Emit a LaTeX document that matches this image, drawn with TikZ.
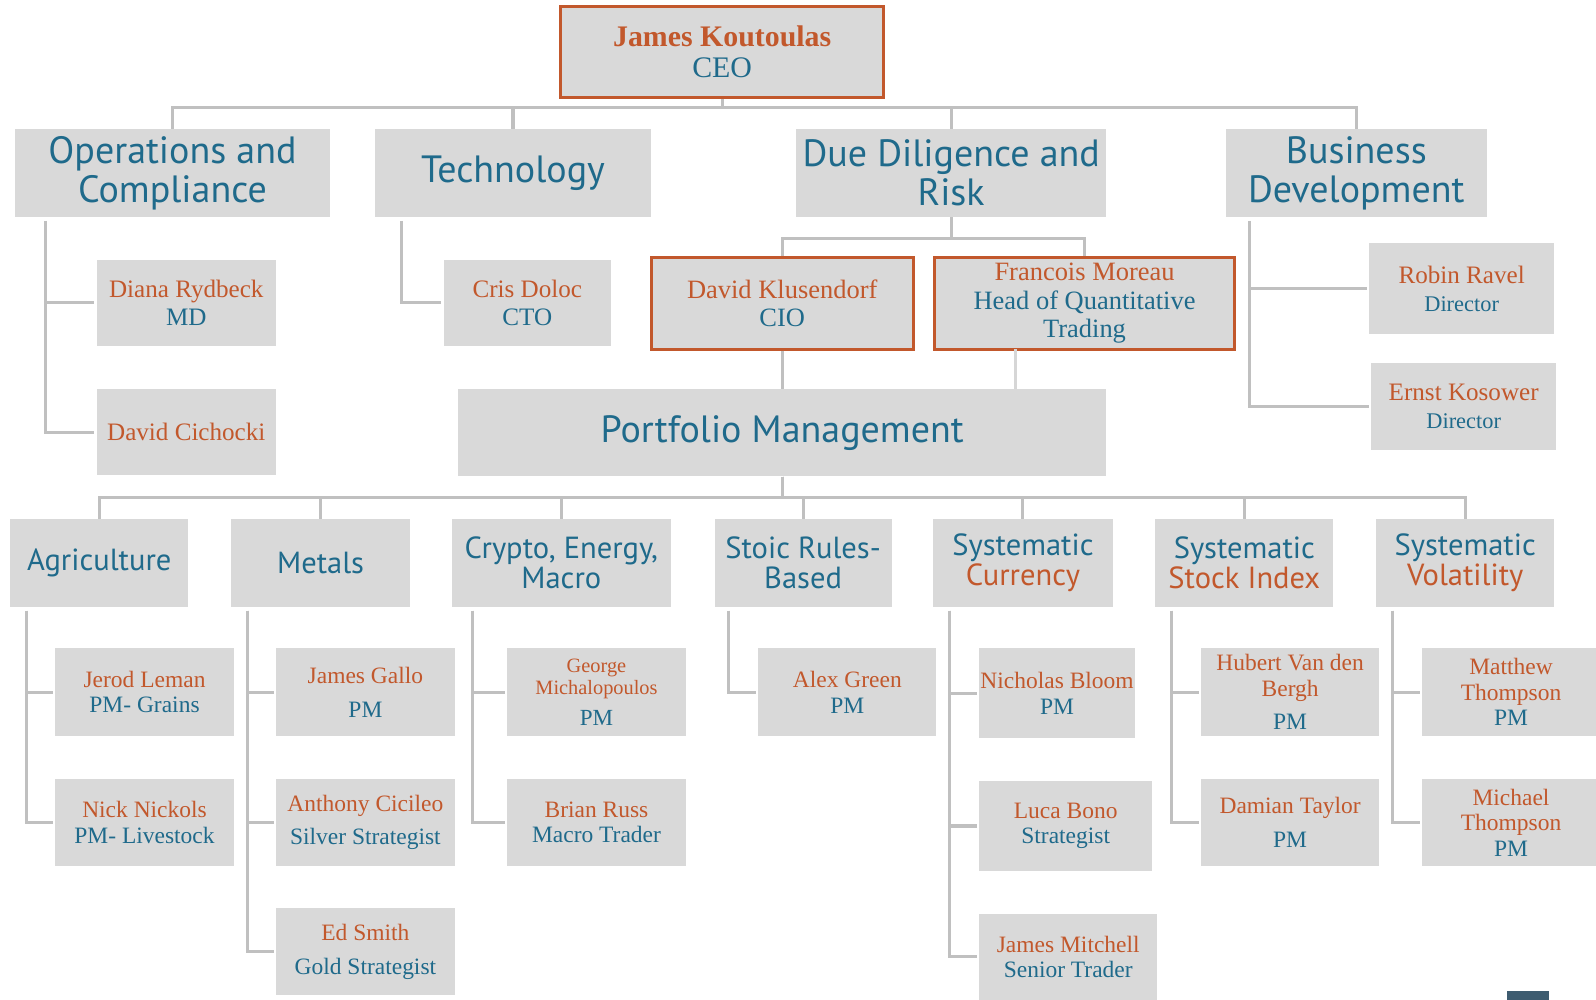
\documentclass[tikz,border=0pt]{standalone}
\usepackage{fontspec}
\newfontfamily\hd{PT Sans}
\newfontfamily\nm{Liberation Serif}
\definecolor{org}{RGB}{194,88,44}
\definecolor{blu}{RGB}{31,106,139}
\definecolor{bxg}{RGB}{217,217,217}
\definecolor{lng}{RGB}{192,192,192}
\definecolor{lngb}{RGB}{214,214,214}
\definecolor{dkb}{RGB}{62,92,112}
\begin{document}
\begin{tikzpicture}[x=0.75pt,y=-0.75pt,
  sz/.style 2 args={minimum width=#1*0.75pt, minimum height=#2*0.75pt},
  box/.style={fill=bxg, draw=none, inner sep=0pt, align=center},
  obox/.style={box, draw=org, line width=2.25pt},
  conn/.style={draw=lng, line width=2.25pt},
  connb/.style={draw=lngb, line width=2.25pt},
  hA/.style={font=\hd\fontsize{28}{28.5}\selectfont, text=blu},
  hB/.style={font=\hd\fontsize{22.5}{22.5}\selectfont, text=blu},
  nA/.style={font=\nm\fontsize{19.5}{21}\selectfont, text=org},
  nB/.style={font=\nm\fontsize{18.5}{20.5}\selectfont, text=org},
  nC/.style={font=\nm\fontsize{17.3}{18.75}\selectfont, text=org},
  nD/.style={font=\nm\fontsize{15}{16.5}\selectfont, text=org},
]
\useasboundingbox (0,0) rectangle (1568,982);

% CEO
\node[obox, sz={317}{90}, font=\nm\fontsize{22}{23}\selectfont] (ceo) at (709.5,51)
  {\textcolor{org}{\bfseries James Koutoulas}\\\textcolor{blu}{CEO}};

% level 1
\node[box, hA, sz={309}{86}] (ops) at (169.5,170) {Operations and\\Compliance};
\node[box, hA, sz={272}{86}] (tech) at (504,170) {Technology};
\node[box, hA, sz={305}{86}] (dd) at (934.5,170) {Due Diligence and\\Risk};
\node[box, hA, sz={257}{86}] (bd) at (1332.5,170) {Business\\Development};

% level 2
\node[box, nB, sz={176}{85}] (diana) at (183,297.5) {Diana Rydbeck\\\textcolor{blu}{MD}};
\node[box, nB, sz={176}{85}] (cich) at (183,424.5) {David Cichocki};
\node[box, nB, sz={164}{85}] (cris) at (518,297.5) {Cris Doloc\\\textcolor{blu}{CTO}};
\node[obox, nA, sz={257}{90}] (cio) at (768.5,298) {David Klusendorf\\\textcolor{blu}{CIO}};
\node[obox, nA, sz={295}{90}] (fm) at (1065.5,298) {Francois Moreau\\\textcolor{blu}{Head of Quantitative}\\\textcolor{blu}{Trading}};
\node[box, nB, sz={182}{89}] (robin) at (1436,283.5) {Robin Ravel\\\textcolor{blu}{\fontsize{16.5}{18}\selectfont Director}};
\node[box, nB, sz={182}{85}] (ernst) at (1438,399.5) {Ernst Kosower\\\textcolor{blu}{\fontsize{16.5}{18}\selectfont Director}};
\node[box, hA, sz={637}{86}] (pm) at (768.5,425) {Portfolio Management};

% level 3
\node[box, hB, sz={175}{86}] (agr) at (97.5,553) {Agriculture};
\node[box, hB, sz={176}{86}] (met) at (315,553) {Metals};
\node[box, hB, sz={215}{86}] (cry) at (551.5,553) {Crypto, Energy,\\Macro};
\node[box, hB, sz={174}{86}] (sto) at (789,553) {Stoic Rules-\\Based};
\node[box, hB, sz={176}{86}] (cur) at (1005,553) {Systematic\\\textcolor{org}{Currency}};
\node[box, hB, sz={175}{86}] (idx) at (1222.5,553) {Systematic\\\textcolor{org}{Stock Index}};
\node[box, hB, sz={175}{86}] (vol) at (1439.5,553) {Systematic\\\textcolor{org}{Volatility}};

% level 4
\node[box, nC, sz={176}{86}] (jerod) at (142,680) {Jerod Leman\\\textcolor{blu}{PM- Grains}};
\node[box, nC, sz={176}{86}] (nick) at (142,808) {Nick Nickols\\\textcolor{blu}{PM- Livestock}};
\node[box, nC, sz={176}{86}] (gallo) at (359,680) {James Gallo\\[6pt]\textcolor{blu}{PM}};
\node[box, nC, sz={176}{86}] (cici) at (359,808) {Anthony Cicileo\\[6pt]\textcolor{blu}{Silver Strategist}};
\node[box, nC, sz={176}{86}] (ed) at (359,935) {Ed Smith\\[6pt]\textcolor{blu}{Gold Strategist}};
\node[box, nD, sz={176}{86}] (george) at (586,680) {George\\Michalopoulos\\[6pt]\textcolor{blu}{\fontsize{17}{18}\selectfont PM}};
\node[box, nC, sz={176}{86}] (brian) at (586,808) {Brian Russ\\\textcolor{blu}{Macro Trader}};
\node[box, nC, sz={175}{86}] (alex) at (832.5,680) {Alex Green\\\textcolor{blu}{PM}};
\node[box, nC, sz={153}{88}] (bloom) at (1038.5,681) {Nicholas Bloom\\\textcolor{blu}{PM}};
\node[box, nC, sz={170}{89}] (luca) at (1047,811.5) {Luca Bono\\\textcolor{blu}{Strategist}};
\node[box, nC, sz={175}{84}] (mitch) at (1049.5,940) {James Mitchell\\\textcolor{blu}{Senior Trader}};
\node[box, nC, sz={175}{86}] (hub) at (1267.5,680) {Hubert Van den\\Bergh\\[6pt]\textcolor{blu}{PM}};
\node[box, nC, sz={175}{86}] (dam) at (1267.5,808) {Damian Taylor\\[6pt]\textcolor{blu}{PM}};
\node[box, nC, sz={175}{86}] (mat) at (1484.5,680) {Matthew\\Thompson\\\textcolor{blu}{PM}};
\node[box, nC, sz={175}{86}] (mic) at (1484.5,808) {Michael\\Thompson\\\textcolor{blu}{PM}};

% top bus
\coordinate (busA) at (0,106);
\foreach \c in {ops,tech,dd,bd}
  \draw[conn] (ceo.south) -- (ceo.south |- busA) -| (\c.north);
% DD bus
\coordinate (busB) at (0,234);
\foreach \c in {cio,fm}
  \draw[conn] (dd.south) -- (dd.south |- busB) -| (\c.north);
\draw[conn] (cio.south) -- (cio.south |- pm.north);
\coordinate (fmx) at (998,343);
\draw[connb] (fmx) -- (fmx |- pm.north);
% PM bus
\coordinate (busC) at (0,489);
\foreach \c in {agr,met,cry,sto,cur,idx,vol}
  \draw[conn] (pm.south) -- (pm.south |- busC) -| (\c.north);

% side branches
\coordinate (opsL) at (45,217);
\coordinate (techL) at (394,217);
\coordinate (bdL) at (1228,217);
\coordinate (agrL) at (26,600);
\coordinate (metL) at (243,600);
\coordinate (cryL) at (464,600);
\coordinate (stoL) at (716,600);
\coordinate (curL) at (933,600);
\coordinate (idxL) at (1151,600);
\coordinate (volL) at (1368,600);
\foreach \a/\b in {opsL/diana,opsL/cich,techL/cris,bdL/robin,bdL/ernst,
  agrL/jerod,agrL/nick,metL/gallo,metL/cici,metL/ed,cryL/george,cryL/brian,
  stoL/alex,curL/bloom,curL/luca,curL/mitch,idxL/hub,idxL/dam,volL/mat,volL/mic}
  \draw[conn] (\a) |- ([xshift=-1.5pt]\b.west);

% small bar at bottom right
\fill[dkb] (1481,974) rectangle (1522,982);
\end{tikzpicture}
\end{document}
